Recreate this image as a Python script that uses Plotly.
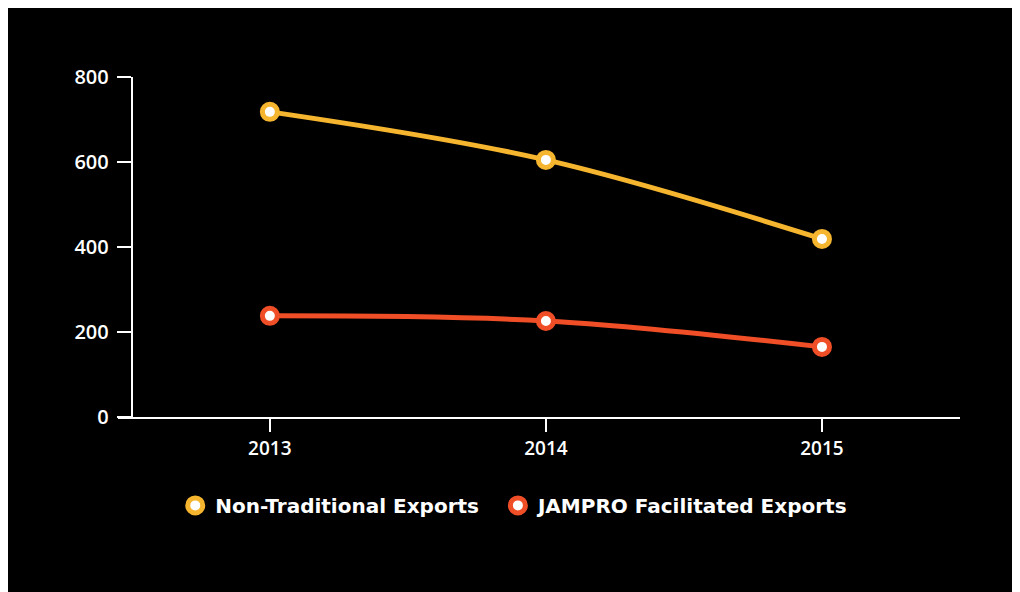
import plotly.graph_objects as go

years = [2013, 2014, 2015]
tick_labels = ["2013", "2014", "2015"]
non_traditional = [718, 605, 419]
jampro = [238, 226, 165]
series_names = ["Non-Traditional Exports\u00a0\u00a0", "JAMPRO Facilitated Exports"]
colors = ["#F5B52E", "#F04E27"]

fig = go.Figure()
for name, vals, col in zip(series_names, [non_traditional, jampro], colors):
    fig.add_trace(go.Scatter(
        x=years, y=vals, mode="lines", showlegend=False, hoverinfo="skip",
        line=dict(color=col, width=5, shape="spline", smoothing=1.0),
    ))
for name, vals, col in zip(series_names, [non_traditional, jampro], colors):
    fig.add_trace(go.Scatter(
        x=years, y=vals, mode="markers", name=name,
        marker=dict(size=15, color="white", line=dict(color=col, width=5)),
    ))

fig.update_layout(
    width=1020, height=592,
    paper_bgcolor="black", plot_bgcolor="black",
    margin=dict(l=110, r=68, t=69, b=183),
    font=dict(family="Open Sans", color="white", size=20),
    xaxis=dict(
        range=[2012.45, 2015.5], tickvals=years, ticktext=tick_labels,
        showgrid=False, zeroline=False, showline=True, linecolor="white", linewidth=2,
        ticks="outside", ticklen=13, tickwidth=1.5, tickcolor="white",
        tickfont=dict(family="Open Sans", size=19, color="white", weight=600),
    ),
    yaxis=dict(
        range=[0, 800], tickvals=[0, 200, 400, 600, 800],
        anchor="free", position=0.0163,
        showgrid=False, zeroline=False, showline=True, linecolor="white", linewidth=2,
        ticks="outside", ticklen=14, tickwidth=1.5, tickcolor="white",
        tickfont=dict(family="Open Sans", size=20, color="white", weight=600),
        ticklabelstandoff=4,
    ),
    legend=dict(
        orientation="h", x=0.068, xanchor="left", y=-0.26, yanchor="middle",
        font=dict(family="DejaVu Sans", size=20, color="white", weight="bold"),
        bgcolor="rgba(0,0,0,0)",
    ),
)

fig.write_html("out.html")
